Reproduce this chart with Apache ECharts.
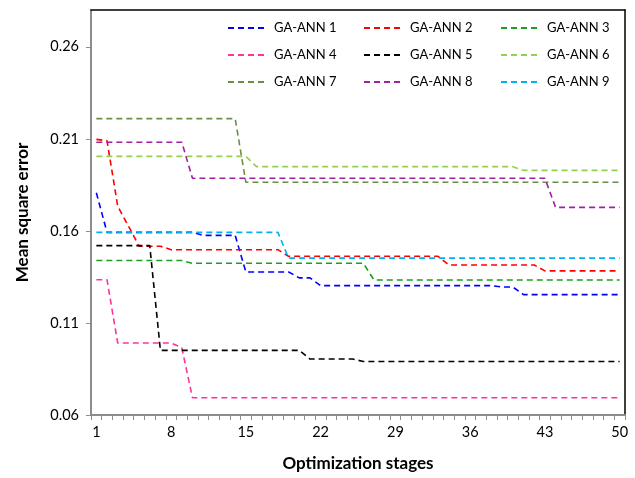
<!DOCTYPE html>
<html>
<head>
<meta charset="utf-8">
<script src="https://cdn.jsdelivr.net/npm/echarts@6/dist/echarts.min.js"></script>
<style>
html,body{margin:0;padding:0;background:#fff;}
#chart{width:635px;height:478px;}
</style>
</head>
<body>
<div id="chart"></div>
<script>
var categories = ['1','2','3','4','5','6','7','8','9','10','11','12','13','14','15','16','17','18','19','20',
  '21','22','23','24','25','26','27','28','29','30','31','32','33','34','35','36','37','38','39','40',
  '41','42','43','44','45','46','47','48','49','50'];
var yTicks = [0.06, 0.11, 0.16, 0.21, 0.26];
var seriesNames = ['GA-ANN 1','GA-ANN 2','GA-ANN 3','GA-ANN 4','GA-ANN 5','GA-ANN 6','GA-ANN 7','GA-ANN 8','GA-ANN 9'];
var seriesColors = ['#0000ff','#ff0000','#1e9e1e','#ff3399','#000000','#92d050','#6b8e45','#a020a0','#00b0f0'];

var ann1 = [0.1807,0.1592,0.1592,0.1592,0.1592,0.1592,0.1592,0.1592,0.1592,0.1592,
  0.1576,0.1576,0.1576,0.1576,0.1377,0.1377,0.1377,0.1377,0.1377,0.1345,
  0.1345,0.1303,0.1303,0.1303,0.1303,0.1303,0.1303,0.1303,0.1303,0.1303,
  0.1303,0.1303,0.1303,0.1303,0.1303,0.1303,0.1303,0.1303,0.1295,0.1295,
  0.1254,0.1254,0.1254,0.1254,0.1254,0.1254,0.1254,0.1254,0.1254,0.1254];
var ann2 = [0.2097,0.2090,0.1734,0.1627,0.1517,0.1517,0.1517,0.1498,0.1498,0.1498,
  0.1498,0.1498,0.1498,0.1498,0.1498,0.1498,0.1498,0.1498,0.1462,0.1462,
  0.1462,0.1462,0.1462,0.1462,0.1462,0.1462,0.1462,0.1462,0.1462,0.1462,
  0.1462,0.1462,0.1462,0.1415,0.1415,0.1415,0.1415,0.1415,0.1415,0.1415,
  0.1415,0.1415,0.1383,0.1383,0.1383,0.1383,0.1383,0.1383,0.1383,0.1383];
var ann3 = [0.1439,0.1439,0.1439,0.1439,0.1439,0.1439,0.1439,0.1439,0.1439,0.1424,
  0.1424,0.1424,0.1424,0.1424,0.1424,0.1424,0.1424,0.1424,0.1424,0.1424,
  0.1424,0.1424,0.1424,0.1424,0.1424,0.1424,0.1333,0.1333,0.1333,0.1333,
  0.1333,0.1333,0.1333,0.1333,0.1333,0.1333,0.1333,0.1333,0.1333,0.1333,
  0.1333,0.1333,0.1333,0.1333,0.1333,0.1333,0.1333,0.1333,0.1333,0.1333];
var ann4 = [0.1335,0.1335,0.0991,0.0991,0.0991,0.0991,0.0991,0.0991,0.0966,0.0694,
  0.0694,0.0694,0.0694,0.0694,0.0694,0.0694,0.0694,0.0694,0.0694,0.0694,
  0.0694,0.0694,0.0694,0.0694,0.0694,0.0694,0.0694,0.0694,0.0694,0.0694,
  0.0694,0.0694,0.0694,0.0694,0.0694,0.0694,0.0694,0.0694,0.0694,0.0694,
  0.0694,0.0694,0.0694,0.0694,0.0694,0.0694,0.0694,0.0694,0.0694,0.0694];
var ann5 = [0.1520,0.1520,0.1520,0.1520,0.1520,0.1520,0.0951,0.0951,0.0951,0.0951,
  0.0951,0.0951,0.0951,0.0951,0.0951,0.0951,0.0951,0.0951,0.0951,0.0951,
  0.0904,0.0904,0.0904,0.0904,0.0904,0.0891,0.0891,0.0891,0.0891,0.0891,
  0.0891,0.0891,0.0891,0.0891,0.0891,0.0891,0.0891,0.0891,0.0891,0.0891,
  0.0891,0.0891,0.0891,0.0891,0.0891,0.0891,0.0891,0.0891,0.0891,0.0891];
var ann6 = [0.2005,0.2005,0.2005,0.2005,0.2005,0.2005,0.2005,0.2005,0.2005,0.2005,
  0.2005,0.2005,0.2005,0.2005,0.2005,0.1949,0.1949,0.1949,0.1949,0.1949,
  0.1949,0.1949,0.1949,0.1949,0.1949,0.1949,0.1949,0.1949,0.1949,0.1949,
  0.1949,0.1949,0.1949,0.1949,0.1949,0.1949,0.1949,0.1949,0.1949,0.1949,
  0.1929,0.1929,0.1929,0.1929,0.1929,0.1929,0.1929,0.1929,0.1929,0.1929];
var ann7 = [0.2210,0.2210,0.2210,0.2210,0.2210,0.2210,0.2210,0.2210,0.2210,0.2210,
  0.2210,0.2210,0.2210,0.2210,0.1864,0.1864,0.1864,0.1864,0.1864,0.1864,
  0.1864,0.1864,0.1864,0.1864,0.1864,0.1864,0.1864,0.1864,0.1864,0.1864,
  0.1864,0.1864,0.1864,0.1864,0.1864,0.1864,0.1864,0.1864,0.1864,0.1864,
  0.1864,0.1864,0.1864,0.1864,0.1864,0.1864,0.1864,0.1864,0.1864,0.1864];
var ann8 = [0.2082,0.2082,0.2082,0.2082,0.2082,0.2082,0.2082,0.2082,0.2082,0.1886,
  0.1886,0.1886,0.1886,0.1886,0.1886,0.1886,0.1886,0.1886,0.1886,0.1886,
  0.1886,0.1886,0.1886,0.1886,0.1886,0.1886,0.1886,0.1886,0.1886,0.1886,
  0.1886,0.1886,0.1886,0.1886,0.1886,0.1886,0.1886,0.1886,0.1886,0.1886,
  0.1886,0.1886,0.1886,0.1728,0.1728,0.1728,0.1728,0.1728,0.1728,0.1728];
var ann9 = [0.1592,0.1592,0.1592,0.1592,0.1592,0.1592,0.1592,0.1592,0.1592,0.1592,
  0.1592,0.1592,0.1592,0.1592,0.1592,0.1592,0.1592,0.1592,0.1452,0.1452,
  0.1452,0.1452,0.1452,0.1452,0.1452,0.1452,0.1452,0.1452,0.1452,0.1452,
  0.1452,0.1452,0.1452,0.1452,0.1452,0.1452,0.1452,0.1452,0.1452,0.1452,
  0.1452,0.1452,0.1452,0.1452,0.1452,0.1452,0.1452,0.1452,0.1452,0.1452];

var allData = [ann1, ann2, ann3, ann4, ann5, ann6, ann7, ann8, ann9];
var FONT = 'Lato';

var series = allData.map(function (d, i) {
  return {
    name: seriesNames[i],
    type: 'line',
    data: d,
    symbol: 'none',
    showSymbol: false,
    xAxisIndex: 0,
    yAxisIndex: 0,
    lineStyle: { color: seriesColors[i], width: 1.6, type: [6, 4] },
    itemStyle: { color: seriesColors[i] }
  };
});

function legendCol(names, left) {
  return {
    data: names,
    orient: 'vertical',
    left: left,
    top: 21,
    padding: 0,
    itemWidth: 38,
    itemHeight: 14,
    itemGap: 13,
    itemStyle: { color: 'rgba(0,0,0,0)', borderWidth: 0, opacity: 0 },
    textStyle: { fontFamily: FONT, fontSize: 13, color: '#000', lineHeight: 14, padding: [0, 0, 0, 3] }
  };
}

var chart = echarts.init(document.getElementById('chart'), null, { renderer: 'canvas' });
chart.setOption({
  animation: false,
  backgroundColor: '#ffffff',
  textStyle: { fontFamily: FONT },
  grid: { left: 91, right: 10, top: 10, bottom: 63, show: false },
  legend: [
    legendCol([seriesNames[0], seriesNames[3], seriesNames[6]], 227),
    legendCol([seriesNames[1], seriesNames[4], seriesNames[7]], 363),
    legendCol([seriesNames[2], seriesNames[5], seriesNames[8]], 500)
  ],
  xAxis: [{
    type: 'category',
    data: categories,
    boundaryGap: true,
    position: 'bottom',
    axisLine: { show: true, lineStyle: { color: '#8c8c8c', width: 2 } },
    axisTick: { show: true, interval: 0, length: 5, lineStyle: { color: '#8c8c8c', width: 1 } },
    axisLabel: { interval: 6, color: '#000', fontSize: 14.5, margin: 10, fontFamily: FONT },
    splitLine: { show: false },
    name: 'Optimization stages',
    nameLocation: 'middle',
    nameGap: 40,
    nameTextStyle: { fontFamily: FONT, fontWeight: 'bold', fontSize: 17, color: '#000' }
  }, {
    type: 'category',
    data: categories,
    position: 'top',
    axisLine: { show: true, lineStyle: { color: '#000', width: 1.5 } },
    axisTick: { show: false },
    axisLabel: { show: false },
    splitLine: { show: false }
  }],
  yAxis: [{
    type: 'value',
    min: 0.06,
    max: 0.28,
    interval: 0.05,
    position: 'left',
    axisLine: { show: true, lineStyle: { color: '#8c8c8c', width: 2 } },
    axisTick: { show: true, length: 5, customValues: yTicks, lineStyle: { color: '#8c8c8c', width: 1 } },
    axisLabel: { color: '#000', fontSize: 14.5, margin: 12, fontFamily: FONT, customValues: yTicks,
      formatter: function (v) { return v.toFixed(2); } },
    splitLine: { show: false },
    name: 'Mean square error',
    nameLocation: 'middle',
    nameGap: 60,
    nameRotate: 90,
    nameTextStyle: { fontFamily: FONT, fontWeight: 'bold', fontSize: 17, color: '#000' }
  }, {
    type: 'value',
    min: 0.06,
    max: 0.28,
    position: 'right',
    axisLine: { show: true, lineStyle: { color: '#000', width: 1.5 } },
    axisTick: { show: false },
    axisLabel: { show: false },
    splitLine: { show: false }
  }],
  series: series
});
</script>
</body>
</html>
